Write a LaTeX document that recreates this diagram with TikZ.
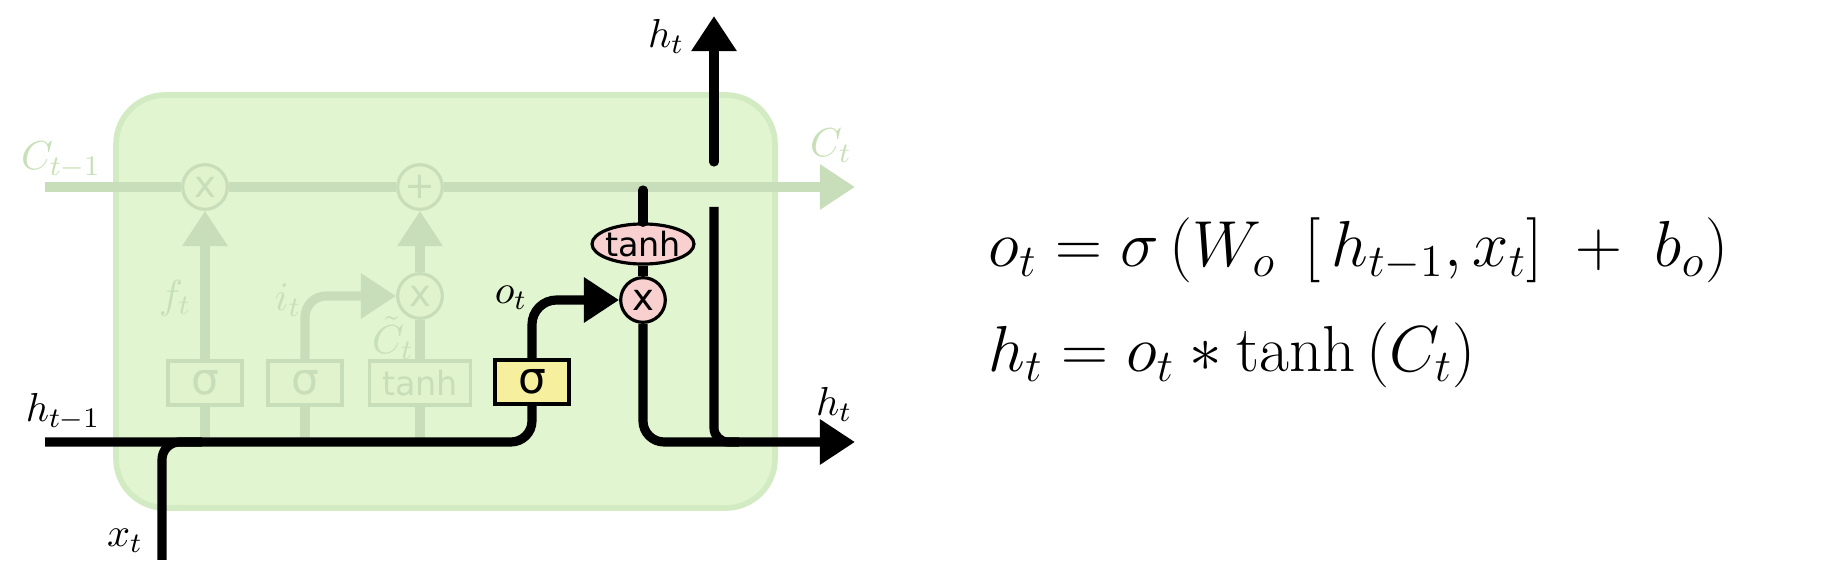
\RequirePackage{fix-cm}
\documentclass[tikz,border=0pt]{standalone}
\usepackage{fontspec}
\newfontfamily\gatefont{DejaVu Sans}
\usetikzlibrary{arrows.meta,shapes.geometric}

\definecolor{cellfill}{RGB}{224,245,208}
\definecolor{celledge}{RGB}{210,235,194}
\definecolor{fadegreen}{RGB}{200,221,185}
\definecolor{fadefill}{RGB}{225,243,205}
\definecolor{fadetext}{RGB}{200,224,184}
\definecolor{gateyellow}{RGB}{245,239,158}
\definecolor{opink}{RGB}{248,208,208}

\begin{document}
\begin{tikzpicture}[x=0.01cm,y=-0.01cm,
    flow/.style={line width=2.6pt,black},
    flowarrow/.style={flow,-{Triangle[length=10pt,width=12.3pt]}},
    fadeline/.style={line width=2.6pt,fadegreen},
    fadearrow/.style={fadeline,-{Triangle[length=10pt,width=12.3pt]}},
    gate/.style={rectangle,draw,line width=0.9pt,minimum width=21pt,minimum height=12.5pt,inner sep=0pt,font=\gatefont\fontsize{12.5}{13}\selectfont},
    fadegate/.style={gate,draw=fadegreen,fill=fadefill,text=fadegreen},
    pointop/.style={circle,draw,line width=0.9pt,minimum size=12.7pt,inner sep=0pt,font=\gatefont\fontsize{10.5}{12}\selectfont},
    fadeop/.style={pointop,draw=fadegreen,fill=fadefill,text=fadegreen},
    lab/.style={font=\fontsize{11.5}{14}\selectfont,inner sep=1pt},
    fadelab/.style={lab,text=fadetext},
    eq/.style={font=\fontsize{18.5}{22}\selectfont,inner sep=0pt,anchor=base west}]
    \useasboundingbox (0,0) rectangle (1826,564);
    \draw[line width=1.6pt,draw=celledge,fill=cellfill,rounded corners=14pt] (116,95) rectangle (775,508);

    \coordinate (cin) at (45,187);
    \coordinate (cout) at (855,187);
    \coordinate (hin) at (45,442);
    \coordinate (hout) at (855,442);
    \coordinate (xin) at (162,560);
    \coordinate (ctap) at (643,190);
    \coordinate (hup) at (714,207);
    \coordinate (htail) at (714,162);
    \coordinate (htip) at (714,16);

    \node[fadegate] (sf) at (205,383) {σ};
    \node[fadegate] (si) at (305,383) {σ};
    \node[fadegate,minimum width=28.7pt,font=\gatefont\fontsize{9.5}{11}\selectfont] (tc) at (420,383) {tanh};
    \node[gate,fill=gateyellow] (so) at (532,382) {σ};
    \node[fadeop] (mf) at (205,187) {x};
    \node[fadeop] (ad) at (420,187) {+};
    \node[fadeop] (mi) at (420,296) {x};
    \node[pointop,fill=opink] (mo) at (643,300) {x};
    \node[ellipse,draw,line width=0.9pt,fill=opink,minimum width=29pt,minimum height=11.4pt,inner xsep=-4pt,inner ysep=0pt,font=\gatefont\fontsize{9.5}{11}\selectfont] (th) at (643,244) {tanh};

    \draw[fadeline] (cin) -- (mf);
    \draw[fadeline] (mf) -- (ad);
    \draw[fadearrow] (ad) -- (cout);
    \foreach \g in {sf,si,tc}
        \draw[fadeline] (\g.south |- hin) -- (\g.south);
    \draw[fadearrow] (sf) -- (mf);
    \draw[fadearrow,rounded corners=6pt] (si) |- (mi);
    \draw[fadeline] (tc) -- (mi);
    \draw[fadearrow] (mi) -- (ad);

    \draw[flow,rounded corners=6pt] (hin) -- (so.south |- hin) -- (so.south);
    \draw[flow,rounded corners=5pt] (xin) -- (xin |- hin) -- ++(40,0);
    \draw[flowarrow,rounded corners=7pt] (so) |- (mo);
    \draw[flow,line cap=round] (ctap) -- (th);
    \draw[flow] (th) -- (mo);
    \draw[flowarrow,rounded corners=6pt] (mo) |- (hout);
    \draw[flow,rounded corners=4pt] (hup) -- (hup |- hout) -- ++(25,0);
    \draw[flowarrow,line cap=round] (htail) -- (htip);

    \node[lab] (lhtop) at (666,36) {$h_t$};
    \node[lab] (lhout) at (834,404) {$h_t$};
    \node[lab] (lhin) at (63,412) {$h_{t-1}$};
    \node[lab] (lx) at (125,541) {$x_t$};
    \node[lab] (lo) at (511,298) {$o_t$};
    \node[fadelab] (lcin) at (61,160) {$C_{t-1}$};
    \node[fadelab] (lcout) at (831,146) {$C_t$};
    \node[fadelab] (lf) at (175,298) {$f_t$};
    \node[fadelab] (li) at (288,300) {$i_t$};
    \node[fadelab] (lct) at (393,338) {$\tilde{C}_t$};

    \node[eq] (eqo) at (988,267) {$o_t = \sigma\left(W_o\;\left[\,h_{t-1},x_t\right]\;+\;b_o\right)$};
    \node[eq] (eqh) at (988,372) {$h_t = o_t * \tanh\left(C_t\right)$};
\end{tikzpicture}
\end{document}
